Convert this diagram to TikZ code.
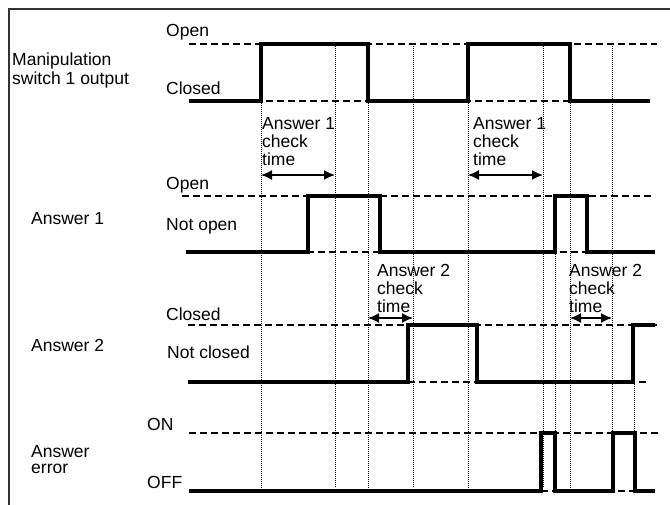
\documentclass[tikz,border=0pt]{standalone}
\usepackage{fontspec}
\setmainfont{Liberation Sans}
\usetikzlibrary{arrows.meta}

\begin{document}
\begin{tikzpicture}[x=1pt,y=-1pt,
    wave/.style={line width=4pt, line join=miter},
    level/.style={line width=1.3pt, dash pattern=on 7pt off 4pt},
    guide/.style={line width=0.9pt, dash pattern=on 1pt off 1pt},
    span/.style={line width=1.4pt, {Latex[length=11pt,width=10pt]}-{Latex[length=11pt,width=10pt]}},
    lbl/.style={anchor=base west, inner sep=0pt, align=left,
      font=\fontsize{17.5}{18}\selectfont}]
  \useasboundingbox (0,0) rectangle (670,505);
  % Frame
  \draw[line width=1.2pt, black!80] (9,505) -- (9,9) -- (670,9);
  % Timing guides
  \foreach \x/\y in {261/101, 335/44, 368/101, 413/44, 468/101,
                     543/44, 555/252, 570/101, 612/44, 634/382} {
    \draw[guide] (\x,\y) -- (\x,488);
  }
  % Signal levels
  \foreach \xa/\xb/\y in {189/657/44, 189/650/101, 182/652/196, 186/655/252,
                          188/657/325, 188/648/382, 189/658/433, 189/655/491} {
    \draw[level] (\xa,\y) -- (\xb,\y);
  }
  % Waveforms
  \draw[wave] (189,101) -- (261,101) -- (261,44) -- (368,44) -- (368,101)
    -- (468,101) -- (468,44) -- (570,44) -- (570,101) -- (650,101);
  \draw[wave] (186,252) -- (308,252) -- (308,196) -- (380,196) -- (380,252)
    -- (555,252) -- (555,196) -- (587,196) -- (587,252) -- (655,252);
  \draw[wave] (188,382) -- (408,382) -- (408,325) -- (477,325) -- (477,382)
    -- (633,382) -- (633,325) -- (655,325);
  \draw[wave] (189,491) -- (541,491) -- (541,433) -- (555,433) -- (555,491)
    -- (613,491) -- (613,433) -- (635,433) -- (635,491) -- (655,491);
  % Signal names (base = last line)
  \node[lbl, font=\fontsize{17.5}{19}\selectfont] (swname) at (12,85) {Manipulation\\switch 1 output};
  \node[lbl] (a1name) at (31,225) {Answer 1};
  \node[lbl] (a2name) at (31,352) {Answer 2};
  \node[lbl, font=\fontsize{17.5}{16}\selectfont] (errname) at (31,473) {Answer\\error};
  % Level names
  \node[lbl] (swopen) at (166,37) {Open};
  \node[lbl] (swclosed) at (166,95) {Closed};
  \node[lbl] (a1open) at (166,190) {Open};
  \node[lbl] (a1notopen) at (166,231) {Not open};
  \node[lbl] (a2closed) at (166,320) {Closed};
  \node[lbl] (a2notclosed) at (167,359) {Not closed};
  \node[lbl] (erron) at (147,430) {ON};
  \node[lbl] (erroff) at (147,488) {OFF};
  % Check times
  \node[lbl] (chk1a) at (262,166) {Answer 1\\check\\time};
  \node[lbl] (chk1b) at (473,166) {Answer 1\\check\\time};
  \node[lbl] (chk2a) at (377,313) {Answer 2\\check\\time};
  \node[lbl] (chk2b) at (569,313) {Answer 2\\check\\time};
  \coordinate (c1s) at (261,175);
  \coordinate (c1e) at (335,175);
  \coordinate (c2s) at (468,175);
  \coordinate (c2e) at (543,175);
  \coordinate (c3s) at (368,318);
  \coordinate (c3e) at (413,318);
  \coordinate (c4s) at (570,318);
  \coordinate (c4e) at (612,318);
  \draw[span] (c1s) -- (c1e);
  \draw[span] (c2s) -- (c2e);
  \draw[span] (c3s) -- (c3e);
  \draw[span] (c4s) -- (c4e);
\end{tikzpicture}
\end{document}
